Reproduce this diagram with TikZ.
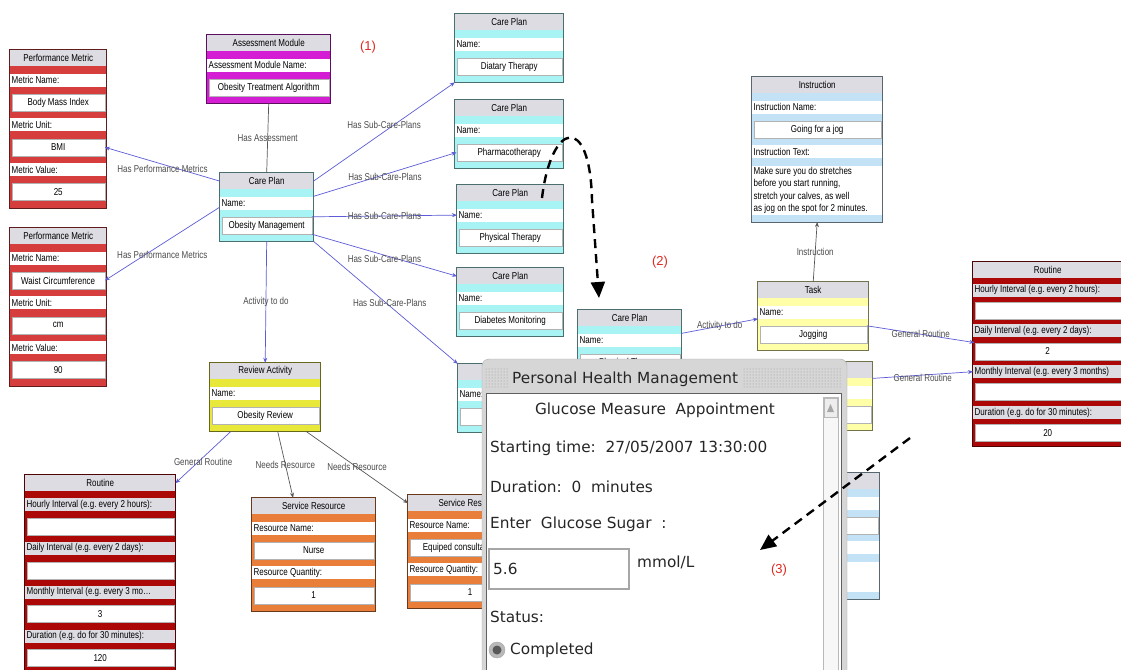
\documentclass[tikz,border=0pt]{standalone}
\usepackage{fontspec}
\setmainfont{Liberation Sans}
\newfontfamily\boxfont[FakeStretch=0.8]{Liberation Sans}
\newfontfamily\winfont{DejaVu Sans}
\usetikzlibrary{positioning,fit,arrows.meta,patterns}
\usetikzlibrary{backgrounds}

\definecolor{headgray}{RGB}{220,220,226}
\definecolor{pmred}{RGB}{214,62,62}
\definecolor{ampink}{RGB}{212,30,212}
\definecolor{cpcyan}{RGB}{168,244,244}
\definecolor{tkyellow}{RGB}{255,255,168}
\definecolor{rvyellow}{RGB}{232,232,58}
\definecolor{inblue}{RGB}{196,226,246}
\definecolor{rtred}{RGB}{172,8,8}
\definecolor{srorange}{RGB}{232,126,58}
\definecolor{linkblue}{RGB}{92,92,214}
\definecolor{linkgray}{RGB}{88,88,88}
\definecolor{notered}{RGB}{222,40,30}
\definecolor{winframe}{RGB}{214,214,214}

\newcommand\boxsize{\boxfont\fontsize{10}{12.5}\selectfont\frenchspacing}
\newcommand\winsize{\winfont\fontsize{15.3}{18}\selectfont}

% entity box: [stripe gap]{name}{top left}{width}{stripe colour}{title}{rows}
\newcommand\entity[7][7]{%
  \def\entw{#4}%
  \node[ehead, minimum width=#4, anchor=north west] (#2-0) at (#3) {#6};
  \foreach \kind/\txt [count=\i] in {#7}{%
    \pgfmathtruncatemacro\prev{\i-1}%
    \node[minimum width=#4, erow \kind, below=#1pt of #2-\prev] (#2-\i) {\txt};
    \xdef\lastrow{\i}%
  }
  \coordinate (#2-end) at ([yshift=-#1pt]#2-\lastrow.south);
  \begin{scope}[on background layer]
    \node[fit={(#2-0) (#2-end)}, inner sep=0pt, fill=#5] (#2) {};
  \end{scope}
  \draw[#5!45!black, line width=1pt] (#2.north west) rectangle (#2.south east);
}

\begin{document}
\begin{tikzpicture}[x=1pt, y=-1pt,
  ehead/.style={fill=headgray, minimum height=16, inner sep=1pt, font=\boxsize},
  erow l/.style={fill=white, minimum height=13, inner sep=1pt, text width=\entw-3, align=flush left, font=\boxsize},
  erow g/.style={erow l, fill=headgray},
  erow t/.style={erow l, minimum height=30},
  erow v/.style={fill=white, draw=gray!60, minimum width=\entw-3, minimum height=17, inner sep=1pt, font=\boxsize},
  link/.style={linkblue, line width=0.7pt, -{Stealth[length=5pt,width=4pt]}},
  glink/.style={linkgray, line width=0.7pt, -{Stealth[length=5pt,width=4pt]}},
  elab/.style={font=\boxsize, text=black!70, inner sep=0pt},
  wtext/.style={font=\winsize, text=black!85, inner sep=1pt},
  note/.style={font=\fontsize{13}{15}\selectfont, text=notered},
  callout/.style={line width=2.4pt, dash pattern=on 9pt off 6pt, -{Triangle[length=16pt,width=14pt]}}]
  \useasboundingbox (0,0) rectangle (1121,669);
  \begin{scope}[on background layer]
    \fill[white] (0,0) rectangle (1121,669);
  \end{scope}

  % entities
  \entity{pm1}{10,50}{96}{pmred}{Performance Metric}{l/Metric Name:, v/Body Mass Index, l/Metric Unit:, v/BMI, l/Metric Value:, v/25}
  \entity{pm2}{10,228}{96}{pmred}{Performance Metric}{l/Metric Name:, v/Waist Circumference, l/Metric Unit:, v/cm, l/Metric Value:, v/90}
  \entity{am}{207,35}{123}{ampink}{Assessment Module}{l/Assessment Module Name:, v/Obesity Treatment Algorithm}
  \entity{cp0}{220,173}{93}{cpcyan}{Care Plan}{l/Name:, v/Obesity Management}
  \entity{cp1}{455,14}{108}{cpcyan}{Care Plan}{l/Name:, v/Diatary Therapy}
  \entity{cp2}{455,100}{108}{cpcyan}{Care Plan}{l/Name:, v/Pharmacotherapy}
  \entity{cp3}{457,185}{106}{cpcyan}{Care Plan}{l/Name:, v/Physical Therapy}
  \entity{cp4}{457,268}{106}{cpcyan}{Care Plan}{l/Name:, v/Diabetes Monitoring}
  \entity{cpH}{458,364}{106}{cpcyan}{}{l/Name:, v/{}}
  \entity{cp5}{578,310}{103}{cpcyan}{Care Plan}{l/Name:, v/Physical Therapy}
  \entity{task}{758,282}{110}{tkyellow}{Task}{l/Name:, v/Jogging}
  \entity{task2}{762,362}{110}{tkyellow}{}{l/{}, v/{}}
  \entity{inst}{752,77}{130}{inblue}{Instruction}{l/Instruction Name:, v/Going for a jog, l/Instruction Text:, t/{Make sure you do stretches\\before you start running,\\stretch your calves, as well\\as jog on the spot for 2 minutes.}}
  \entity{inst2}{750,473}{129}{inblue}{}{l/{}, v/{}, l/{}, t/{}}
  \entity[5]{rR}{973,262}{149}{rtred}{Routine}{g/Hourly Interval (e.g. every 2 hours):, v/{}, g/Daily Interval (e.g. every 2 days):, v/2, g/Monthly Interval (e.g. every 3 months), v/{}, g/Duration (e.g. do for 30 minutes):, v/20}
  \entity{rev}{210,363}{110}{rvyellow}{Review Activity}{l/Name:, v/Obesity Review}
  \entity[6.5]{rL}{25,475}{150}{rtred}{Routine}{g/Hourly Interval (e.g. every 2 hours):, v/{}, g/Daily Interval (e.g. every 2 days):, v/{}, g/{Monthly Interval (e.g. every 3 mo\ldots}, v/3, g/Duration (e.g. do for 30 minutes):, v/120}
  \entity{sr1}{252,498}{123}{srorange}{Service Resource}{l/Resource Name:, v/Nurse, l/Resource Quantity:, v/1}
  \entity{sr2}{408,495}{124}{srorange}{Service Resource}{l/Resource Name:, v/Equiped consultation room, l/Resource Quantity:, v/1}

  % connectors
  \draw[link] (cp0-0.west) -- (pm1-4.east) node[elab, midway, yshift=-5pt] (lpm1) {Has Performance Metrics};
  \draw[link] (cp0.west) -- (pm2-2.east) node[elab, midway, yshift=-11pt] (lpm2) {Has Performance Metrics};
  \draw[linkgray, line width=0.7pt] (am.south) -- (cp0.north) node[elab, midway] (lhas) {Has Assessment};
  \draw[link] (cp0-0.east) -- (cp1.south west) node[elab, midway, yshift=7pt] (lsub1) {Has Sub-Care-Plans};
  \draw[link] (cp0-1.north east) -- (cp2-2.west) node[elab, midway, yshift=-2pt] (lsub2) {Has Sub-Care-Plans};
  \draw[link] (cp0-2.north east) -- (cp3-1.west) node[elab, midway] (lsub3) {Has Sub-Care-Plans};
  \draw[link] (cp0-2.south east) -- (cp4-0.west) node[elab, midway, yshift=-4pt] (lsub4) {Has Sub-Care-Plans};
  \draw[link] (cp0.south east) -- (cpH.north west) node[elab, midway, xshift=4pt] (lsub5) {Has Sub-Care-Plans};
  \draw[link] (cp0.south) -- (rev.north) node[elab, midway] (lact) {Activity to do};
  \draw[link] (rev.225) -- (rL-0.east) node[elab, midway, yshift=-5pt] (lgen1) {General Routine};
  \draw[glink] (rev.290) -- (sr1.110) node[elab, midway] (lneed1) {Needs Resource};
  \draw[glink] (rev.320) -- (sr2-0.west) node[elab, midway] (lneed2) {Needs Resource};
  \draw[link] (cp5-1.north east) -- (task-1.south west) node[elab, midway] (lact2) {Activity to do};
  \draw[glink] (task.north) -- (inst.south) node[elab, midway] (linst) {Instruction};
  \draw[link] (task-2.north east) -- (rR-4.north west) node[elab, midway] (lgen2) {General Routine};
  \draw[link] (task2-0.south east) -- (rR-5.west) node[elab, midway, yshift=-3pt] (lgen3) {General Routine};

  % popup window
  \draw[gray!65, fill=winframe, rounded corners=7pt] (482,675) -- (482,359) -- (847,359) -- (847,675);
  \fill[pattern=dots, pattern color=gray!80] (485,367) rectangle (509,387);
  \fill[pattern=dots, pattern color=gray!80] (743,367) rectangle (842,387);
  \node[wtext, anchor=west] (wtitle) at (511,379) {Personal Health Management};
  \draw[gray!75!black, fill=white] (486,393) rectangle (841,675);
  \draw[gray!55, fill=gray!6] (823,397) rectangle (838,675);
  \draw[gray!55, fill=gray!14] (824,398) rectangle (837,417);
  \fill[gray!70] (827,412) -- (834,412) -- (830.5,404) -- cycle;
  \node[wtext] (wline1) at (655,410) {Glucose Measure\ \ Appointment};
  \node[wtext, anchor=west] (wline2) at (489,448) {Starting time:\ \ 27/05/2007 13:30:00};
  \node[wtext, anchor=west] (wline3) at (489,487) {Duration:\ \ 0\ \ minutes};
  \node[wtext, anchor=west] (wline4) at (489,524) {Enter\ \ Glucose Sugar\ \ :};
  \node[draw=gray!70, line width=1.5pt, fill=white, minimum width=140, minimum height=40, anchor=north west] (winput) at (488,548) {};
  \node[wtext, anchor=west, xshift=4pt] (wval) at (winput.west) {5.6};
  \node[wtext, anchor=west] (wunit) at (636,562) {mmol/L};
  \node[wtext, anchor=west] (wstatus) at (489,617) {Status:};
  \node[circle, fill=gray!55, draw=gray!70, minimum size=16, inner sep=0pt] (wradio) at (497,650) {};
  \fill[black!65] (wradio.center) circle (4.5);
  \node[wtext, anchor=west] (wdone) at (509,650) {Completed};

  % callouts
  \coordinate (c2a) at (542,198);
  \coordinate (c2b) at (599,298);
  \draw[callout] (c2a) .. controls (551,122) and (590,112) .. (592,200) -- (c2b);
  \coordinate (c3a) at (910,438);
  \coordinate (c3b) at (760,550);
  \draw[callout] (c3a) -- (c3b);
  \node[note] (n1) at (368,47) {(1)};
  \node[note] (n2) at (660,262) {(2)};
  \node[note] (n3) at (779,570) {(3)};
\end{tikzpicture}
\end{document}
